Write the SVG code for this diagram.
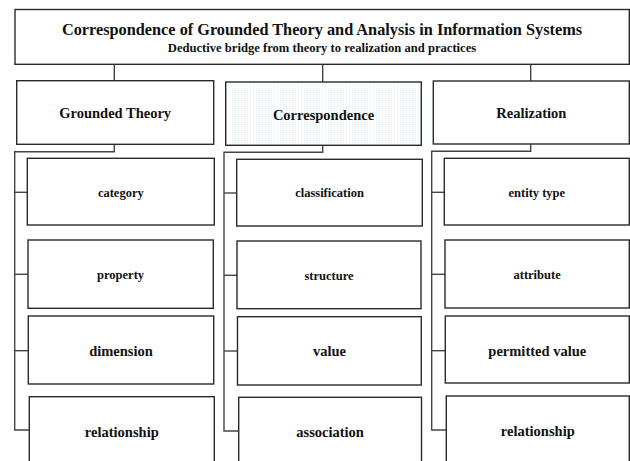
<svg xmlns="http://www.w3.org/2000/svg" width="630" height="461" viewBox="0 0 630 461">
<defs>
<pattern id="dots" width="3" height="2" patternUnits="userSpaceOnUse">
<rect width="3" height="2" fill="#ffffff"/>
<rect x="1" y="0" width="1" height="1" fill="#dcf3f6"/>
</pattern>
<style>
.box{fill:#ffffff;stroke:#2a2a2a;stroke-width:1.4}
.hl{fill:url(#dots)}
.con{fill:none;stroke:#444444;stroke-width:1.4}
text{font-family:"Liberation Serif","Times New Roman",serif;font-weight:bold;fill:#111111;text-anchor:middle}
.t1{font-size:16.3px}
.t2{font-size:12.6px}
.lg{font-size:14.5px}
.sm{font-size:12.5px}
</style>
</defs>
<rect width="630" height="461" fill="#ffffff"/>
<g id="connectors">
<line class="con" x1="114.3" y1="64.3" x2="114.3" y2="80.7"/>
<line class="con" x1="322.7" y1="64.3" x2="322.7" y2="82"/>
<line class="con" x1="530.7" y1="64.3" x2="530.7" y2="81"/>
<polyline class="con" points="114.3,144.3 114.3,151.7 14.7,151.7 14.7,430 29.3,430"/>
<line class="con" x1="14.7" y1="192.3" x2="27.3" y2="192.3"/>
<line class="con" x1="14.7" y1="274.3" x2="28" y2="274.3"/>
<line class="con" x1="14.7" y1="350.7" x2="28.3" y2="350.7"/>
<polyline class="con" points="322.7,145.3 322.7,152.3 224,152.3 224,431 238.7,431"/>
<line class="con" x1="224" y1="193" x2="236.7" y2="193"/>
<line class="con" x1="224" y1="275.3" x2="237" y2="275.3"/>
<line class="con" x1="224" y1="351" x2="237.5" y2="351"/>
<polyline class="con" points="530.7,144 530.7,151.3 431.7,151.3 431.7,430 446.3,430"/>
<line class="con" x1="431.7" y1="192.3" x2="444.3" y2="192.3"/>
<line class="con" x1="431.7" y1="274.3" x2="445" y2="274.3"/>
<line class="con" x1="431.7" y1="350.7" x2="445.3" y2="350.7"/>
</g>
<g id="title">
<rect class="box" x="15" y="9.5" width="614.3" height="54.8"/>
<text class="t1" x="322" y="35">Correspondence of Grounded Theory and Analysis in Information Systems</text>
<text class="t2" x="322" y="51.5">Deductive bridge from theory to realization and practices</text>
</g>
<g id="grounded-theory">
<rect class="box" x="16.7" y="80.7" width="197" height="63.6"/>
<text class="lg" x="115.2" y="118.3">Grounded Theory</text>
</g>
<g id="correspondence">
<rect class="box hl" x="225.7" y="82" width="195.6" height="63.3"/>
<text class="lg" x="323.5" y="119.5">Correspondence</text>
</g>
<g id="realization">
<rect class="box" x="433.3" y="81" width="196" height="63"/>
<text class="lg" x="531.3" y="118.3">Realization</text>
</g>
<g id="category">
<rect class="box" x="27.3" y="158.3" width="187" height="66.7"/>
<text class="sm" x="120.8" y="196.5">category</text>
</g>
<g id="property">
<rect class="box" x="28" y="240" width="185.3" height="68.3"/>
<text class="sm" x="120.6" y="279">property</text>
</g>
<g id="dimension">
<rect class="box" x="28.3" y="316" width="185.4" height="68"/>
<text class="lg" x="121" y="355.7">dimension</text>
</g>
<g id="relationship-gt">
<rect class="box" x="29.3" y="396.7" width="185" height="80"/>
<text class="lg" x="121.8" y="436.5">relationship</text>
</g>
<g id="classification">
<rect class="box" x="236.7" y="159.3" width="185.6" height="66.7"/>
<text class="sm" x="329.5" y="197.3">classification</text>
</g>
<g id="structure">
<rect class="box" x="237" y="241" width="184" height="67.7"/>
<text class="sm" x="329" y="279.5">structure</text>
</g>
<g id="value">
<rect class="box" x="237.5" y="316.7" width="183.8" height="68.3"/>
<text class="lg" x="329.4" y="356">value</text>
</g>
<g id="association">
<rect class="box" x="238.7" y="397.3" width="182.8" height="80"/>
<text class="lg" x="330.1" y="437">association</text>
</g>
<g id="entity-type">
<rect class="box" x="444.3" y="158.3" width="185" height="66.7"/>
<text class="sm" x="536.8" y="196.7">entity type</text>
</g>
<g id="attribute">
<rect class="box" x="445" y="240" width="184.3" height="68"/>
<text class="sm" x="537.1" y="278.5">attribute</text>
</g>
<g id="permitted-value">
<rect class="box" x="445.3" y="316" width="184" height="67"/>
<text class="lg" x="537.3" y="355.7">permitted value</text>
</g>
<g id="relationship-re">
<rect class="box" x="446.3" y="396" width="183" height="80"/>
<text class="lg" x="537.8" y="436">relationship</text>
</g>
</svg>
